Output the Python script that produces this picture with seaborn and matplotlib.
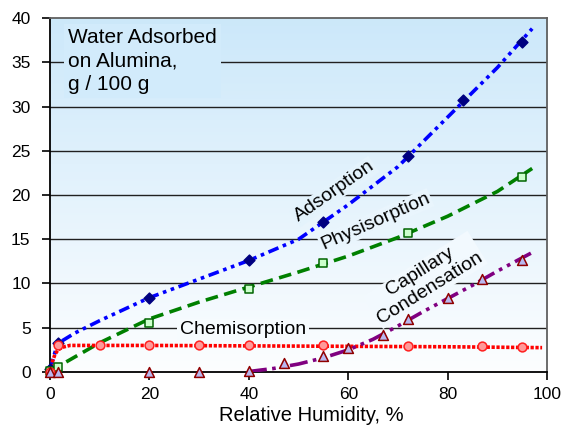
import numpy as np
import pandas as pd
import seaborn as sns
import matplotlib.pyplot as plt
from matplotlib.colors import LinearSegmentedColormap

# measured points
ads_x = [0, 1.6, 20, 40, 55, 72, 83, 95]
ads_y = [0.3, 3.3, 8.4, 12.6, 16.9, 24.4, 30.7, 37.3]
phys_x = [0, 1.6, 20, 40, 55, 72, 95]
phys_y = [0.1, 0.6, 5.5, 9.4, 12.3, 15.7, 22.0]
chem_x = [0, 1.6, 10, 20, 30, 40, 55, 72, 87, 95]
chem_y = [0, 3.1, 3.0, 3.0, 3.0, 3.0, 3.0, 2.95, 2.9, 2.85]
cap_x = [0, 1.6, 20, 30, 40, 47, 55, 60, 67, 72, 80, 87, 95]
cap_y = [0, 0, 0, 0, 0.1, 1.0, 1.8, 2.7, 4.2, 6.0, 8.4, 10.5, 12.6]

# trend curves
ads_fit_x = [0, 1.5, 5, 10, 20, 30, 40, 50, 60, 70, 80, 90, 97]
ads_fit_y = [0.3, 3.2, 4.4, 5.8, 8.4, 10.5, 12.6, 15.0, 18.9, 23.2, 28.8, 34.4, 38.8]
phys_fit_x = [0, 1.6, 5, 10, 20, 30, 40, 50, 60, 70, 80, 90, 97]
phys_fit_y = [0, 0.6, 1.7, 3.3, 6.0, 7.9, 9.6, 11.3, 13.1, 15.2, 17.6, 20.4, 23.0]
chem_fit_x = [0, 0.5, 1, 1.6, 2.5, 4, 6, 10, 20, 40, 60, 80, 99]
chem_fit_y = [0, 1.2, 2.0, 2.5, 2.8, 3.0, 3.0, 3.0, 3.0, 2.95, 2.9, 2.85, 2.75]
cap_fit_x = [40, 45, 50, 55, 60, 65, 70, 75, 80, 85, 90, 97]
cap_fit_y = [0.05, 0.4, 0.9, 1.6, 2.5, 3.7, 5.2, 6.8, 8.3, 9.8, 11.4, 13.5]

x_ticks = [0, 20, 40, 60, 80, 100]
y_ticks = [0, 5, 10, 15, 20, 25, 30, 35, 40]

sns.set_style("ticks")
plt.rcParams['font.family'] = ['Liberation Sans', 'DejaVu Sans']
plt.rcParams['text.color'] = 'black'
plt.rcParams['axes.labelcolor'] = 'black'
plt.rcParams['xtick.color'] = 'black'
plt.rcParams['ytick.color'] = 'black'

fig = plt.figure(figsize=(5.64, 4.26), dpi=100)
ax = fig.add_axes([0.0887, 0.1268, 0.8813, 0.8309])

# background gradient
top_col = np.array([0.80, 0.91, 0.98])
bot_col = np.array([0.99, 0.995, 1.0])
bg_cmap = LinearSegmentedColormap.from_list("bg", [bot_col, top_col])
grad = np.linspace(0, 1, 256).reshape(-1, 1)
ax.imshow(grad, cmap=bg_cmap, origin="lower", extent=[0, 100, 0, 40],
          aspect="auto", zorder=0)

def bg(yv):
    t = yv / 40.0
    return tuple(bot_col + (top_col - bot_col) * t)

for yv in y_ticks[1:-1]:
    ax.axhline(yv, color="#202020", lw=1.0, zorder=1)

curves = [
    (ads_fit_x, ads_fit_y, "#0000ff", (0, (3, 1.3, 1, 1.3, 1, 1.3))),
    (phys_fit_x, phys_fit_y, "#008000", (0, (3.5, 1.8))),
    (chem_fit_x, chem_fit_y, "#ff0000", (0, (0.9, 0.45))),
    (cap_fit_x, cap_fit_y, "#800080", (0, (5, 1.5, 1, 1.5, 1, 1.5))),
]
for cx, cy, col, ls in curves:
    sns.lineplot(x=cx, y=cy, ax=ax, color=col, lw=2.6, linestyle=ls,
                 sort=False, zorder=3)

pts = [
    (ads_x, ads_y, "D", "#000080", "#000080", 30),
    (phys_x, phys_y, "s", "#ccffcc", "#006400", 30),
    (chem_x, chem_y, "o", "#ff9999", "#ff2020", 40),
    (cap_x, cap_y, "^", "#b8b8f0", "#900000", 50),
]
for px, py, mk, fc, ec, sz in pts:
    sns.scatterplot(x=px, y=py, ax=ax, marker=mk, color=fc, edgecolor=ec,
                    linewidth=1.1, s=sz, zorder=4, clip_on=False)

ax.text(3.6, 38.9, "Water Adsorbed\non Alumina,\ng / 100 g", fontsize=15,
        ha="left", va="top", linespacing=1.3, zorder=2,
        bbox=dict(facecolor=bg(35), edgecolor="none", pad=3))
ax.text(57.2, 20.4, "Adsorption", fontsize=14, rotation=35, ha="center",
        va="center", rotation_mode="anchor", zorder=2,
        bbox=dict(facecolor=bg(20), edgecolor="none", pad=1))
ax.text(65.5, 17.0, "Physisorption", fontsize=14, rotation=24, ha="center",
        va="center", rotation_mode="anchor", zorder=2,
        bbox=dict(facecolor=bg(16), edgecolor="none", pad=1))
ax.text(75.5, 10.4, "Capillary\nCondensation", fontsize=14, rotation=32,
        ha="center", va="center", multialignment="center",
        rotation_mode="anchor", linespacing=1.15, zorder=2,
        bbox=dict(facecolor=bg(9), edgecolor="none", pad=1))
ax.text(38.8, 4.75, "Chemisorption", fontsize=14, ha="center", va="center",
        zorder=2, bbox=dict(facecolor=bg(5), edgecolor="none", pad=2))

ax.set_xlim(0, 100)
ax.set_ylim(0, 40)
ax.set_xticks(x_ticks)
ax.set_yticks(y_ticks)
ax.tick_params(axis="both", direction="out", length=6, width=1.2,
               labelsize=12.5, color="black", labelcolor="black")
ax.tick_params(axis="y", pad=8)
ax.tick_params(axis="x", pad=5)
ax.set_xlabel("Relative Humidity, %", fontsize=14.5)
ax.xaxis.set_label_coords(0.525, -0.097)
ax.set_ylabel("")

for side in ["left", "bottom"]:
    ax.spines[side].set_color("black")
    ax.spines[side].set_linewidth(1.3)
for side in ["top", "right"]:
    ax.spines[side].set_visible(True)
    ax.spines[side].set_color("#606060")
    ax.spines[side].set_linewidth(1.3)

fig.savefig("out.png", dpi=100)
